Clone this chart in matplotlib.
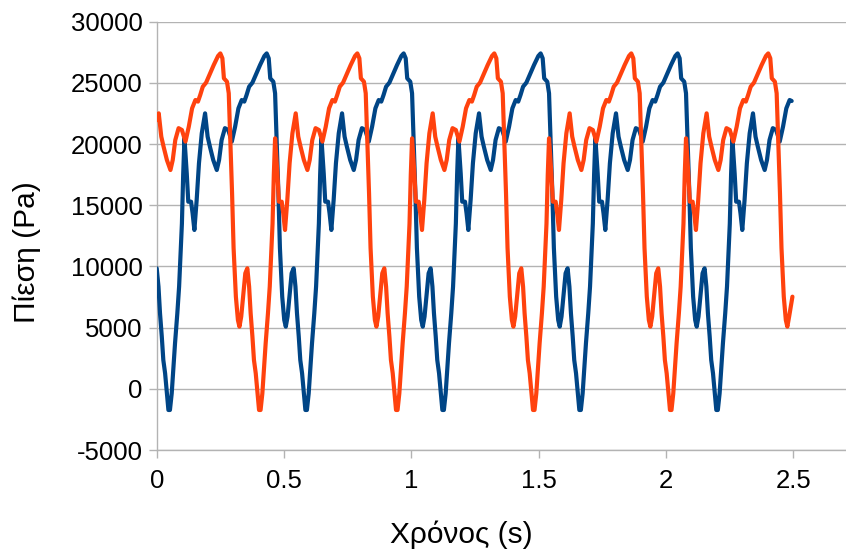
import matplotlib
matplotlib.use("Agg")
import matplotlib.pyplot as plt

# One heartbeat of the pressure trace: time within the beat (s) and pressure (Pa)
beat_phase = [0.000, 0.007, 0.013, 0.020, 0.026, 0.033, 0.039, 0.046, 0.052, 0.059,
              0.065, 0.072, 0.081, 0.088, 0.092, 0.099, 0.104, 0.109, 0.118, 0.124,
              0.135, 0.141, 0.148, 0.157, 0.166, 0.177, 0.190, 0.200, 0.209, 0.222,
              0.236, 0.245, 0.255, 0.268, 0.281, 0.295, 0.308, 0.321, 0.334, 0.344,
              0.353, 0.363, 0.376, 0.389, 0.406, 0.423, 0.432, 0.440, 0.446, 0.458,
              0.465, 0.471, 0.478, 0.484, 0.493, 0.501, 0.507, 0.514, 0.524, 0.530]
beat_pressure = [9850, 8350, 6170, 4260, 2350, 1270, -100, -1730, -1730, -370,
                 1540, 3720, 6170, 8350, 10250, 13500, 17500, 20470, 17610, 15290,
                 15290, 14340, 12980, 15430, 18430, 20880, 22510, 20610, 19790, 18700,
                 17880, 18700, 20330, 21300, 21150, 20200, 21420, 22920, 23600, 23470,
                 24010, 24690, 25020, 25640, 26460, 27200, 27410, 27010, 25370, 25100,
                 24150, 20330, 16000, 11500, 7530, 5620, 5080, 5900, 8080, 9440]

# Beat onsets (s) of the two traces, plus the first and last recorded samples (s, Pa)
blue_onsets = [0.0, 0.538, 1.076, 1.614, 2.152]
blue_first = (0.0, 9850)
blue_last = (2.494, 23520)

orange_onsets = [-0.182, 0.356, 0.894, 1.432, 1.970]
orange_first = (0.0, 21950)
orange_last = (2.497, 7530)

x_ticks = [0, 0.5, 1, 1.5, 2, 2.5]
x_tick_labels = ["0", "0.5", "1", "1.5", "2", "2.5"]
y_ticks = [-5000, 0, 5000, 10000, 15000, 20000, 25000, 30000]


def build_trace(onsets, first, last):
    times, values = [first[0]], [first[1]]
    for t0 in onsets:
        for ph, val in zip(beat_phase, beat_pressure):
            t = t0 + ph
            if first[0] < t < last[0] - 0.004:
                times.append(t)
                values.append(val)
    times.append(last[0])
    values.append(last[1])
    return times, values


plt.rcParams["font.family"] = ["Liberation Sans", "DejaVu Sans"]

W, H = 846, 554
fig = plt.figure(figsize=(W / 100, H / 100), dpi=100)
left, right, top, bottom = 156.7, 846, 21.7, 450
ax = fig.add_axes([left / W, 1 - bottom / H, (right - left) / W, (bottom - top) / H])

grid_col = "#b3b3b3"
bt, bv = build_trace(blue_onsets, blue_first, blue_last)
ot, ov = build_trace(orange_onsets, orange_first, orange_last)
ax.plot(bt, bv, color="#004586", lw=3.0, solid_joinstyle="round", solid_capstyle="round", zorder=3)
ax.plot(ot, ov, color="#ff420e", lw=3.0, solid_joinstyle="round", solid_capstyle="round", zorder=4)

ax.set_xlim(0, (right - left) / 254.6)
ax.set_ylim(-5000, 30000)
ax.set_xticks(x_ticks)
ax.set_xticklabels(x_tick_labels)
ax.set_yticks(y_ticks)
ax.set_yticklabels([str(v) for v in y_ticks])

ax.grid(axis="y", color=grid_col, lw=1.0)
ax.set_axisbelow(True)
for s in ("top", "right"):
    ax.spines[s].set_visible(False)
for s in ("left", "bottom"):
    ax.spines[s].set_color(grid_col)
    ax.spines[s].set_linewidth(1.0)

ax.tick_params(axis="both", colors=grid_col, labelcolor="black", labelsize=18.5,
               length=6, width=1.0)
ax.tick_params(axis="y", pad=4)
ax.tick_params(axis="x", pad=8)

# Axis titles placed in figure pixels
fig.text(461 / W, 1 - 535 / H, "Χρόνος (s)", fontsize=21.5, ha="center", va="center")
fig.text(27 / W, 1 - 252 / H, "Πίεση (Pa)", fontsize=21.5, ha="center", va="center",
         rotation=90)

fig.savefig("out.png", dpi=100)
